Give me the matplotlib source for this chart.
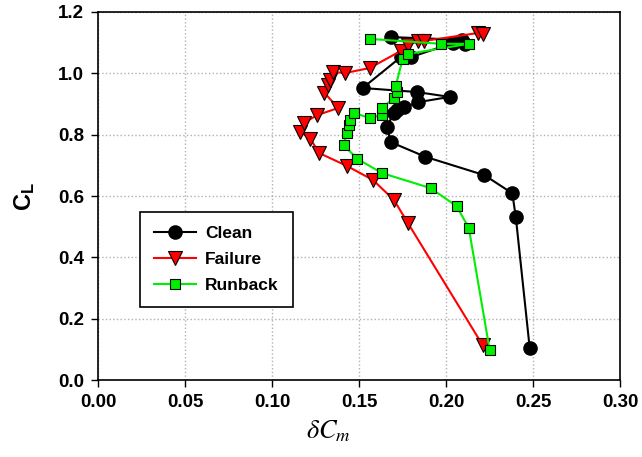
import matplotlib
matplotlib.use("Agg")
import matplotlib.pyplot as plt

plt.rcParams['font.family'] = ['Liberation Sans', 'DejaVu Sans']
plt.rcParams['mathtext.fontset'] = 'stix'
plt.rcParams['mathtext.rm'] = 'Liberation Sans'
plt.rcParams['mathtext.bf'] = 'Liberation Sans:bold'

# delta Cm vs CL for each surface condition (ordered by increasing alpha)
clean_dcm = [0.248, 0.240, 0.238, 0.222, 0.188, 0.168, 0.166, 0.170, 0.172, 0.176,
             0.184, 0.202, 0.183, 0.152, 0.174, 0.180, 0.204, 0.211, 0.209, 0.168]
clean_cl = [0.105, 0.532, 0.609, 0.668, 0.728, 0.776, 0.826, 0.872, 0.880, 0.890,
            0.906, 0.923, 0.939, 0.952, 1.053, 1.053, 1.099, 1.096, 1.109, 1.118]

failure_dcm = [0.221, 0.178, 0.170, 0.158, 0.143, 0.127, 0.122, 0.116, 0.118, 0.126,
               0.138, 0.130, 0.132, 0.133, 0.135, 0.142, 0.156, 0.174, 0.178, 0.184,
               0.187, 0.218, 0.221]
failure_cl = [0.114, 0.512, 0.587, 0.652, 0.698, 0.740, 0.786, 0.810, 0.838, 0.864,
              0.887, 0.936, 0.962, 0.978, 1.004, 1.001, 1.017, 1.073, 1.092, 1.105,
              1.105, 1.131, 1.128]

runback_dcm = [0.225, 0.213, 0.206, 0.191, 0.163, 0.149, 0.141, 0.143, 0.144, 0.145,
               0.147, 0.156, 0.163, 0.163, 0.170, 0.172, 0.171, 0.175, 0.178, 0.213,
               0.197, 0.156]
runback_cl = [0.098, 0.496, 0.567, 0.626, 0.675, 0.721, 0.766, 0.805, 0.831, 0.848,
              0.871, 0.854, 0.864, 0.887, 0.919, 0.939, 0.959, 1.047, 1.063, 1.096,
              1.096, 1.112]

fig = plt.figure(figsize=(6.42, 4.57), dpi=100)
ax = fig.add_axes([0.153, 0.168, 0.813, 0.806])

ax.plot(clean_dcm, clean_cl, color='black', lw=1.5, marker='o', ms=9.5,
        mfc='black', mec='black', mew=1, label='Clean')
ax.plot(failure_dcm, failure_cl, color='red', lw=1.5, marker='v', ms=9.5,
        mfc='red', mec='black', mew=0.8, label='Failure')
ax.plot(runback_dcm, runback_cl, color='#00ee00', lw=1.5, marker='s', ms=7.8,
        mfc='#00ee00', mec='black', mew=0.8, label='Runback')

ax.set_xlim(0, 0.30)
ax.set_ylim(0, 1.2)
ax.set_xticks([0.00, 0.05, 0.10, 0.15, 0.20, 0.25, 0.30])
ax.set_yticks([0.0, 0.2, 0.4, 0.6, 0.8, 1.0, 1.2])
ax.set_xticklabels(['0.00', '0.05', '0.10', '0.15', '0.20', '0.25', '0.30'])
ax.set_yticklabels(['0.0', '0.2', '0.4', '0.6', '0.8', '1.0', '1.2'])
ax.tick_params(direction='out', length=5, width=1, labelsize=13.5, pad=5)
for lab in ax.get_xticklabels() + ax.get_yticklabels():
    lab.set_fontweight('bold')
ax.grid(True, linestyle=':', color='#b0b0b0', lw=1)
ax.set_axisbelow(True)
for s in ax.spines.values():
    s.set_linewidth(1.2)

ax.set_xlabel(r'$\delta C_m$', fontsize=19)
ax.xaxis.set_label_coords(0.44, -0.105)
ax.set_ylabel(r'$\mathbf{C_L}$', fontsize=17, math_fontfamily='custom')
ax.yaxis.set_label_coords(-0.118, 0.5)

leg = ax.legend(loc='upper left', bbox_to_anchor=(0.080, 0.457), borderaxespad=0,
                fancybox=False, framealpha=1, edgecolor='black',
                prop={'weight': 'bold', 'size': 12.5}, handlelength=2.4,
                handletextpad=0.55, borderpad=0.8, labelspacing=0.62)
leg.get_frame().set_linewidth(1.2)

fig.savefig('out.png', dpi=100)
